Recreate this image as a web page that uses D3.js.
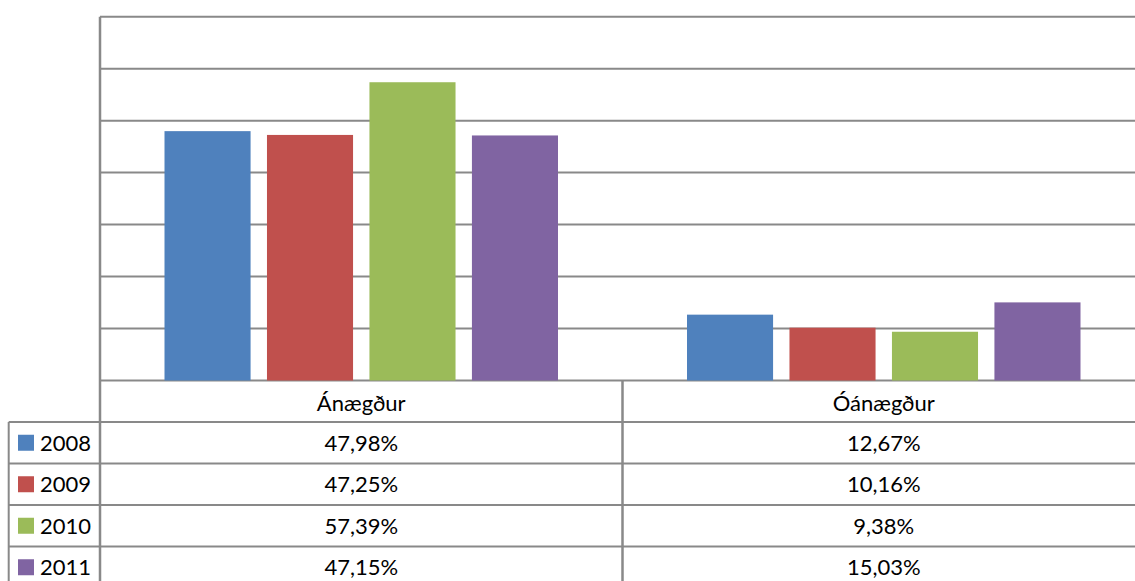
<!DOCTYPE html>
<html>
<head>
<meta charset="utf-8">
<script src="https://cdn.jsdelivr.net/npm/d3@7"></script>
<style>
  body { margin: 0; background: #fff; }
  svg { display: block; }
  text { font-family: Lato, "Open Sans", sans-serif; fill: #000; }
</style>
</head>
<body>
<script>
// Data
const categories = ["Ánægður", "Óánægður"];
const years = ["2008", "2009", "2010", "2011"];
const values2008 = [47.98, 12.67];
const values2009 = [47.25, 10.16];
const values2010 = [57.39, 9.38];
const values2011 = [47.15, 15.03];
const yTicks = [0, 10, 20, 30, 40, 50, 60, 70];

const series = [values2008, values2009, values2010, values2011];
const colors = ["#4F81BD", "#C0504D", "#9BBB59", "#8064A2"];

// Dimensions
const W = 1135, H = 581;
const plot = { left: 100, right: 1145, top: 16.7, bottom: 380.5 };
const rowH = 41.5;
const legendLeft = 8.7;
const gridColor = "#898989";

const svg = d3.select("body")
    .append("svg")
    .attr("width", W)
    .attr("height", H);

const x0 = d3.scaleBand()
    .domain(categories)
    .range([plot.left, plot.right]);

const x1 = d3.scaleBand()
    .domain(years)
    .range([64.5, x0.bandwidth() - 64.5])
    .paddingInner(0.16);

const y = d3.scaleLinear()
    .domain([0, 70])
    .range([plot.bottom, plot.top]);

const fmt = d3.formatLocale({ decimal: ",", thousands: ".", grouping: [3], currency: ["", ""] }).format(".2f");

// Gridlines
svg.append("g")
    .selectAll("line")
    .data(yTicks)
    .enter()
    .append("line")
    .attr("x1", plot.left)
    .attr("x2", W)
    .attr("y1", d => y(d))
    .attr("y2", d => y(d))
    .attr("stroke", gridColor)
    .attr("stroke-width", 2);

// Bars
const group = svg.selectAll("g.cat")
    .data(categories)
    .enter()
    .append("g")
    .attr("class", "cat")
    .attr("transform", d => `translate(${x0(d)},0)`);

group.selectAll("rect")
    .data((d, ci) => years.map((yr, si) => ({ yr, v: series[si][ci], si })))
    .enter()
    .append("rect")
    .attr("x", d => x1(d.yr))
    .attr("width", x1.bandwidth())
    .attr("y", d => y(d.v))
    .attr("height", d => y(0) - y(d.v))
    .attr("fill", d => colors[d.si]);

// Data table
const tableTop = plot.bottom;
const rowY = i => tableTop + rowH * (i + 1);
const table = svg.append("g");

// horizontal lines of the table
table.selectAll("line.h")
    .data(years)
    .enter()
    .append("line")
    .attr("class", "h")
    .attr("x1", legendLeft)
    .attr("x2", W)
    .attr("y1", (d, i) => rowY(i))
    .attr("y2", (d, i) => rowY(i))
    .attr("stroke", gridColor)
    .attr("stroke-width", 2);

// vertical lines
table.append("line")
    .attr("x1", plot.left).attr("x2", plot.left)
    .attr("y1", plot.top).attr("y2", H)
    .attr("stroke", gridColor).attr("stroke-width", 2.5);

table.append("line")
    .attr("x1", x0(categories[1])).attr("x2", x0(categories[1]))
    .attr("y1", plot.bottom).attr("y2", H)
    .attr("stroke", gridColor).attr("stroke-width", 2.5);

table.append("line")
    .attr("x1", legendLeft).attr("x2", legendLeft)
    .attr("y1", rowY(0)).attr("y2", H)
    .attr("stroke", gridColor).attr("stroke-width", 2);

// category header
table.selectAll("text.cat")
    .data(categories)
    .enter()
    .append("text")
    .attr("class", "cat")
    .attr("x", d => x0(d) + x0.bandwidth() / 2)
    .attr("y", tableTop + rowH / 2 + 10)
    .attr("text-anchor", "middle")
    .attr("font-size", 22)
    .text(d => d);

// legend keys and values
const rows = table.selectAll("g.row")
    .data(years)
    .enter()
    .append("g")
    .attr("class", "row")
    .attr("transform", (d, i) => `translate(0,${rowY(i)})`);

rows.append("rect")
    .attr("x", 18)
    .attr("y", rowH / 2 - 8)
    .attr("width", 16)
    .attr("height", 16)
    .attr("fill", (d, i) => colors[i]);

rows.append("text")
    .attr("x", 40)
    .attr("y", rowH / 2 + 8)
    .attr("font-size", 22)
    .text(d => d);

rows.selectAll("text.val")
    .data((d, si) => categories.map((c, ci) => ({ c, v: series[si][ci] })))
    .enter()
    .append("text")
    .attr("class", "val")
    .attr("x", d => x0(d.c) + x0.bandwidth() / 2)
    .attr("y", rowH / 2 + 8)
    .attr("text-anchor", "middle")
    .attr("font-size", 22)
    .text(d => fmt(d.v) + "%");
</script>
</body>
</html>
